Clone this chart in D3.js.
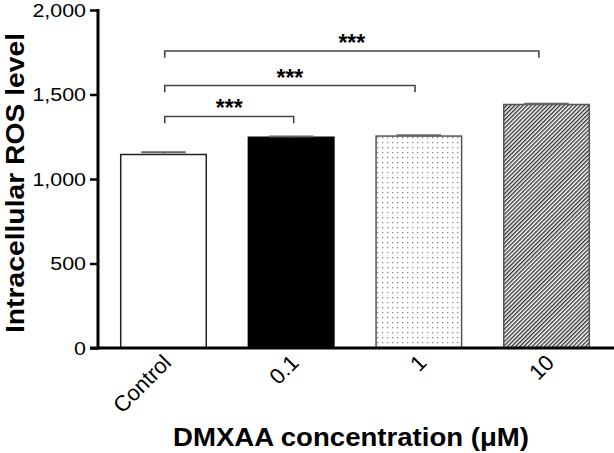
<!DOCTYPE html>
<html>
<head>
<meta charset="utf-8">
<script src="https://cdn.jsdelivr.net/npm/d3@7"></script>
<style>
  html, body { margin: 0; padding: 0; background: #fff; }
  svg { display: block; }
  text { font-family: Arial, "Liberation Sans", Helvetica, sans-serif; }
</style>
</head>
<body>
<script>
// ---- data ----
const categories = ["Control", "0.1", "1", "10"];
const values = [1145, 1247, 1254, 1441];
const errors = [13, 4, 5, 4];
const fills = ["white", "black", "dots", "hatch"];
const yTicks = [0, 500, 1000, 1500, 2000];
// significance brackets: from/to as category index positions, level (y value), label
const bracketFrom = [0.01, 0.01, 0.01];
const bracketTo = [1.02, 1.97, 2.94];
const bracketLevel = [1370, 1553, 1757];
const bracketLabel = ["***", "***", "***"];
const bracketDrop = 40;

const W = 614, H = 453;
const svg = d3.select("body").append("svg").attr("width", W).attr("height", H);

const defs = svg.append("defs");
const dots = defs.append("pattern").attr("id", "dots").attr("patternUnits", "userSpaceOnUse")
  .attr("width", 5).attr("height", 5);
dots.append("rect").attr("width", 5).attr("height", 5).attr("fill", "white");
dots.append("rect").attr("x", 2).attr("y", 2).attr("width", 1.3).attr("height", 1.3).attr("fill", "#888");

const hatch = defs.append("pattern").attr("id", "hatch").attr("patternUnits", "userSpaceOnUse")
  .attr("width", 2.9).attr("height", 10).attr("patternTransform", "rotate(45)");
hatch.append("rect").attr("width", 2.9).attr("height", 10).attr("fill", "white");
hatch.append("line").attr("x1", 0.7).attr("x2", 0.7).attr("y1", 0).attr("y2", 10)
  .attr("stroke", "#333").attr("stroke-width", 1.4);

const x = d3.scaleBand().domain(categories).range([99, 611]).paddingInner(0.33).paddingOuter(0.17);
const y = d3.scaleLinear().domain([0, 2000]).range([348, 10]);
const xi = d3.scaleLinear().domain([0, 1]).range([x(categories[0]) + x.bandwidth() / 2, x(categories[1]) + x.bandwidth() / 2]);

const fillOf = f => f === "white" ? "white" : f === "black" ? "black" : `url(#${f})`;
const strokeOf = f => f === "white" ? "#222" : f === "black" ? "black" : "#555";

// bars
svg.append("g").selectAll("rect").data(categories).join("rect")
  .attr("x", d => x(d))
  .attr("y", (d, i) => y(values[i]))
  .attr("width", x.bandwidth())
  .attr("height", (d, i) => y(0) - y(values[i]))
  .attr("fill", (d, i) => fillOf(fills[i]))
  .attr("stroke", (d, i) => strokeOf(fills[i]))
  .attr("stroke-width", 1.5);

// error bars
const eg = svg.append("g").attr("stroke", "#666").attr("stroke-width", 2);
categories.forEach((c, i) => {
  const cx = x(c) + x.bandwidth() / 2;
  const cw = x.bandwidth() * 0.26;
  eg.append("line").attr("x1", cx).attr("x2", cx).attr("y1", y(values[i])).attr("y2", y(values[i] + errors[i]));
  eg.append("line").attr("x1", cx - cw).attr("x2", cx + cw).attr("y1", y(values[i] + errors[i])).attr("y2", y(values[i] + errors[i]));
});

// y axis
const yAxis = svg.append("g").attr("transform", "translate(98,0)")
  .call(d3.axisLeft(y).tickValues(yTicks).tickSize(8).tickPadding(4).tickFormat(d3.format(",")));
yAxis.select(".domain").remove();
yAxis.selectAll(".tick line").attr("stroke", "black").attr("stroke-width", 2.5);
yAxis.selectAll(".tick text").attr("font-size", 18).attr("fill", "black")
  .attr("font-family", "Arial, 'Liberation Sans', sans-serif")
  .attr("x", 0).attr("dy", "0.36em")
  .attr("transform", "translate(-12,0) scale(1.19,1)");
svg.append("line").attr("x1", 98).attr("x2", 98).attr("y1", y(2000) - 1).attr("y2", y(0) + 1.5)
  .attr("stroke", "black").attr("stroke-width", 3);

// x axis
svg.append("line").attr("x1", 90).attr("x2", W).attr("y1", y(0)).attr("y2", y(0))
  .attr("stroke", "black").attr("stroke-width", 3.2);
const xAxis = svg.append("g").attr("transform", `translate(0,${y(0)})`)
  .call(d3.axisBottom(x).tickSize(0).tickPadding(0));
xAxis.select(".domain").remove();
xAxis.selectAll(".tick text")
  .attr("font-size", 22).attr("fill", "black")
  .attr("font-family", "Arial, 'Liberation Sans', sans-serif")
  .attr("text-anchor", "end")
  .attr("dy", "0")
  .attr("transform", "translate(9,16) rotate(-45)");

// brackets
const bg = svg.append("g");
bracketFrom.forEach((f, i) => {
  const x1 = xi(f), x2 = xi(bracketTo[i]);
  const yl = y(bracketLevel[i]), yd = y(bracketLevel[i] - bracketDrop);
  bg.append("path")
    .attr("d", `M${x1},${yd}V${yl}H${x2}V${yd}`)
    .attr("fill", "none").attr("stroke", "#444").attr("stroke-width", 1.6);
  bg.append("text").attr("x", (x1 + x2) / 2).attr("y", yl)
    .attr("text-anchor", "middle").attr("font-size", 23).attr("font-weight", "bold")
    .attr("fill", "black").text(bracketLabel[i]);
});

// axis titles
svg.append("text").attr("transform", `translate(24,183) rotate(-90)`)
  .attr("text-anchor", "middle").attr("font-size", 26).attr("font-weight", "bold")
  .attr("textLength", 300).attr("lengthAdjust", "spacingAndGlyphs")
  .attr("fill", "black").text("Intracellular ROS level");
svg.append("text").attr("x", 351).attr("y", 446)
  .attr("text-anchor", "middle").attr("font-size", 26).attr("font-weight", "bold")
  .attr("textLength", 356).attr("lengthAdjust", "spacingAndGlyphs")
  .attr("fill", "black").text("DMXAA concentration (μM)");
</script>
</body>
</html>
